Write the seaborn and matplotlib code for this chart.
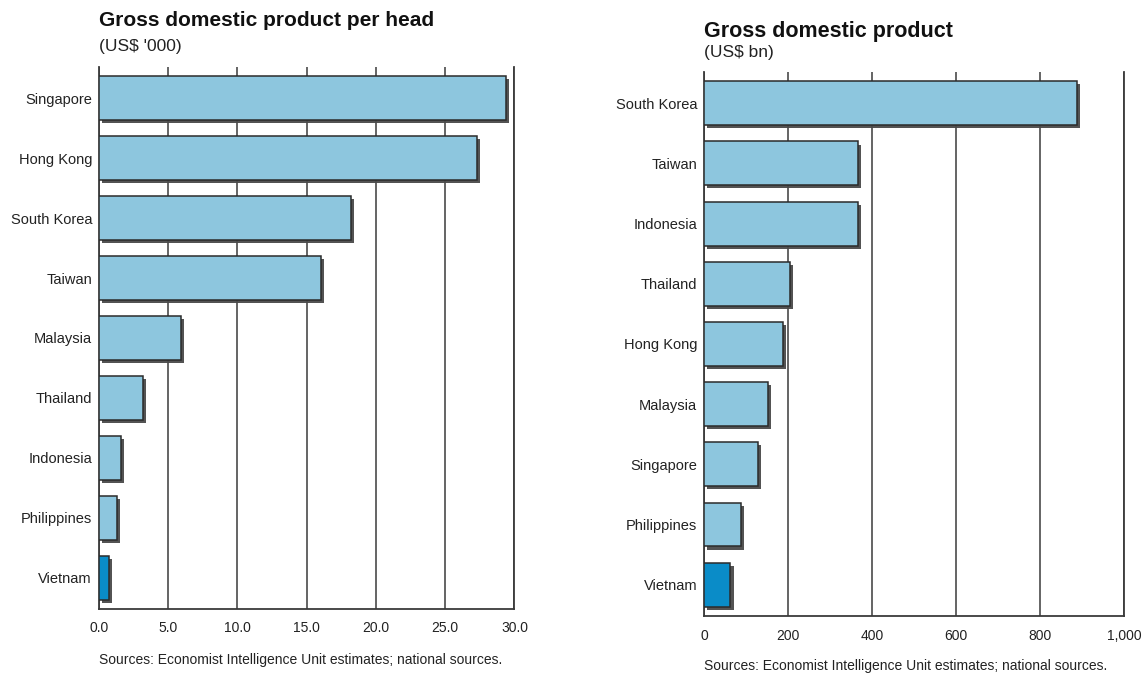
import matplotlib
matplotlib.use("Agg")
import matplotlib.pyplot as plt
import matplotlib.patheffects as pe
import seaborn as sns
import pandas as pd

# ---- data ----
head_countries = ["Singapore", "Hong Kong", "South Korea", "Taiwan", "Malaysia",
                  "Thailand", "Indonesia", "Philippines", "Vietnam"]
head_values = [29.4, 27.3, 18.2, 16.0, 5.9, 3.2, 1.6, 1.3, 0.7]
head_ticks = [0, 5, 10, 15, 20, 25, 30]
head_ticklabels = ["0.0", "5.0", "10.0", "15.0", "20.0", "25.0", "30.0"]

gdp_countries = ["South Korea", "Taiwan", "Indonesia", "Thailand", "Hong Kong",
                 "Malaysia", "Singapore", "Philippines", "Vietnam"]
gdp_values = [887, 366, 366, 205, 187, 153, 128, 87, 63]
gdp_ticks = [0, 200, 400, 600, 800, 1000]
gdp_ticklabels = ["0", "200", "400", "600", "800", "1,000"]

LIGHT = "#8dc6de"
DARK = "#0a8cc8"
EDGE = "#2b2b2b"
GRID = "#3a3a3a"

sns.set_theme(style="white")
plt.rcParams["font.family"] = ["Liberation Sans", "DejaVu Sans"]

fig = plt.figure(figsize=(11.47, 6.75), dpi=100)
ax1 = fig.add_axes([0.0863, 0.0978, 0.3622, 0.803])
ax2 = fig.add_axes([0.6138, 0.0874, 0.3662, 0.806])


def draw(ax, cats, vals, ticks, ticklabels, xmax):
    df = pd.DataFrame({"country": cats, "value": vals})
    colors = [DARK if c == "Vietnam" else LIGHT for c in cats]
    sns.barplot(data=df, x="value", y="country", hue="country", palette=colors,
                legend=False, width=0.73, ax=ax, saturation=1,
                edgecolor=EDGE, linewidth=1.1)
    for p in ax.patches:
        p.set_path_effects([pe.SimplePatchShadow(offset=(2.2, -2.2),
                                                 shadow_rgbFace="#4a4a4a", alpha=0.95),
                            pe.Normal()])
    ax.set_xlim(0, xmax)
    ax.set_ylim(8.52, -0.52)
    ax.set_xticks(ticks)
    ax.set_xticklabels(ticklabels, fontsize=10, color="#222222")
    ax.tick_params(axis="both", length=0)
    ax.tick_params(axis="x", pad=9)
    ax.tick_params(axis="y", pad=5, labelsize=10.5, labelcolor="#222222")
    ax.set_xlabel("")
    ax.set_ylabel("")
    ax.grid(axis="x", color=GRID, linewidth=1.1)
    ax.grid(axis="y", visible=False)
    ax.set_axisbelow(True)
    ax.spines["top"].set_visible(False)
    for s in ["bottom", "left", "right"]:
        ax.spines[s].set_visible(True)
        ax.spines[s].set_color(GRID)
        ax.spines[s].set_linewidth(1.3)
        ax.spines[s].set_zorder(0.5)
    ax.spines["bottom"].set_zorder(3)


draw(ax1, head_countries, head_values, head_ticks, head_ticklabels, 30)
draw(ax2, gdp_countries, gdp_values, gdp_ticks, gdp_ticklabels, 1000)

# titles
fig.text(99 / 1147, 1 - 21 / 675, "Gross domestic product per head", fontsize=15,
         fontweight="bold", va="center", ha="left", color="#111111")
fig.text(99 / 1147, 1 - 46 / 675, "(US$ '000)", fontsize=12.5, va="center", ha="left",
         color="#222222")
fig.text(704 / 1147, 1 - 31 / 675, "Gross domestic product", fontsize=15.5,
         fontweight="bold", va="center", ha="left", color="#111111")
fig.text(704 / 1147, 1 - 53 / 675, "(US$ bn)", fontsize=12.5, va="center", ha="left",
         color="#222222")

# sources
fig.text(99 / 1147, 1 - 660 / 675,
         "Sources: Economist Intelligence Unit estimates; national sources.",
         fontsize=10, va="center", ha="left", color="#222222")
fig.text(704 / 1147, 1 - 666 / 675,
         "Sources: Economist Intelligence Unit estimates; national sources.",
         fontsize=10, va="center", ha="left", color="#222222")

fig.savefig("out.png", dpi=100, facecolor="white")
